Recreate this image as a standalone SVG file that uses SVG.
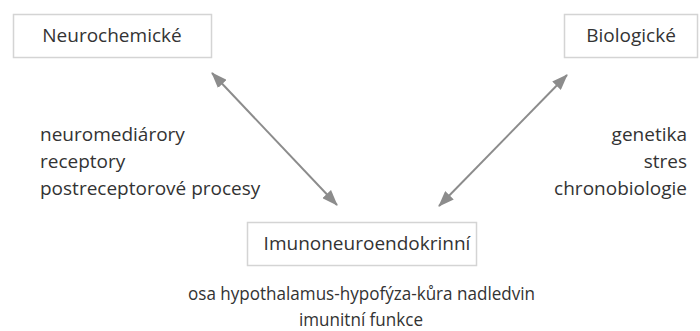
<svg xmlns="http://www.w3.org/2000/svg" width="700" height="331" viewBox="0 0 700 331">
<defs>
<style>
.box{fill:#fff;stroke:#d4d4d4;stroke-width:1.5}
.t{font-family:"Open Sans",Lato,sans-serif;font-size:19px;fill:#333}
.c{stroke:#8c8c8c;stroke-width:2;fill:none}
</style>
<marker id="ah" viewBox="0 0 16 12" refX="15" refY="6" markerWidth="16" markerHeight="12" markerUnits="userSpaceOnUse" orient="auto-start-reverse">
<path d="M0,0 L16,6 L0,12 z" fill="#8c8c8c"/>
</marker>
</defs>
<rect width="700" height="331" fill="#fff"/>
<g id="connectors">
<line class="c" x1="212" y1="73" x2="337" y2="205" marker-start="url(#ah)" marker-end="url(#ah)"/>
<line class="c" x1="567" y1="75" x2="439" y2="206" marker-start="url(#ah)" marker-end="url(#ah)"/>
</g>
<g id="neurochemicke">
<rect class="box" x="13.5" y="14.5" width="198" height="43"/>
<text class="t" x="112" y="42" text-anchor="middle">Neurochemické</text>
</g>
<g id="biologicke">
<rect class="box" x="564.5" y="14.5" width="133" height="43"/>
<text class="t" x="631" y="42" text-anchor="middle">Biologické</text>
</g>
<g id="imunoneuroendokrinni">
<rect class="box" x="247.5" y="222.5" width="229" height="43"/>
<text class="t" x="367" y="250" text-anchor="middle">Imunoneuroendokrinní</text>
</g>
<g id="label-neuro">
<text class="t" x="40" y="141">neuromediárory</text>
<text class="t" x="40" y="168">receptory</text>
<text class="t" x="40" y="195">postreceptorové procesy</text>
</g>
<g id="label-bio">
<text class="t" x="687" y="141" text-anchor="end">genetika</text>
<text class="t" x="687" y="168" text-anchor="end">stres</text>
<text class="t" x="687" y="195" text-anchor="end">chronobiologie</text>
</g>
<g id="label-imuno">
<text class="t" x="188" y="300" textLength="347" lengthAdjust="spacingAndGlyphs">osa hypothalamus-hypofýza-kůra nadledvin</text>
<text class="t" x="299" y="326" textLength="124" lengthAdjust="spacingAndGlyphs">imunitní funkce</text>
</g>
</svg>
